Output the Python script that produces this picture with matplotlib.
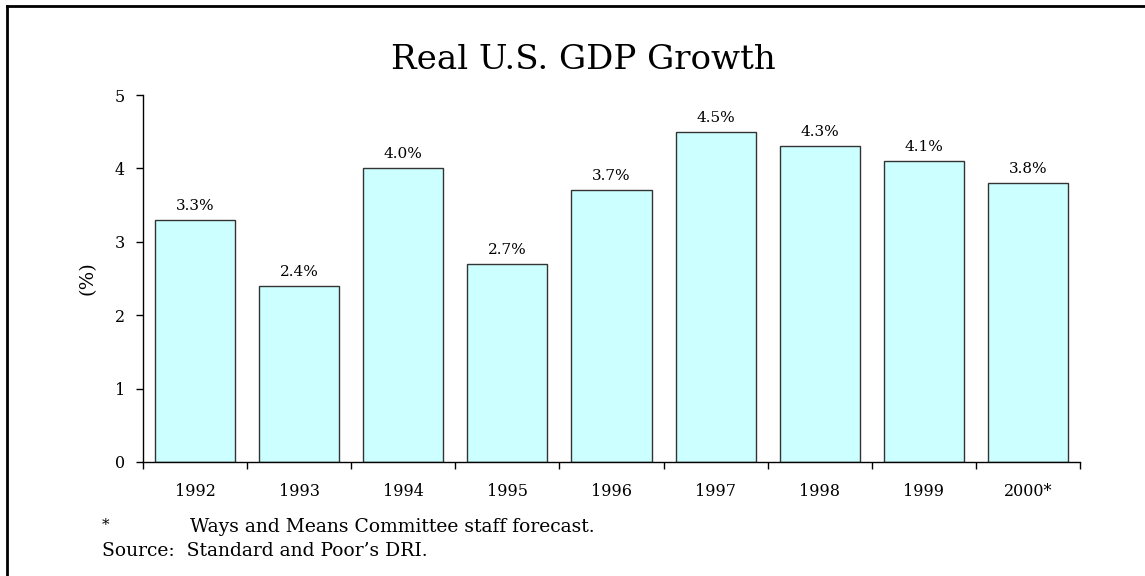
import matplotlib.pyplot as plt
from matplotlib.lines import Line2D
import numpy as np

years = ['1992', '1993', '1994', '1995', '1996', '1997', '1998', '1999', '2000*']
growth = [3.3, 2.4, 4.0, 2.7, 3.7, 4.5, 4.3, 4.1, 3.8]

plt.rcParams['font.family'] = ['DejaVu Serif']

W, H = 1145, 576
fig = plt.figure(figsize=(W / 100, H / 100), dpi=100)
ax = fig.add_axes([143 / W, 1 - 462 / H, (1080 - 143) / W, (462 - 95) / H])

x = np.arange(len(years))
bars = ax.bar(x, growth, width=0.77, color='#ccffff', edgecolor='#333333', linewidth=1.0)

for xi, v in zip(x, growth):
    ax.annotate(f'{v:.1f}%', (xi, v), xytext=(0, 5), textcoords='offset points',
                ha='center', va='bottom', fontsize=11)

ax.set_xlim(-0.5, len(years) - 0.5)
ax.set_ylim(0, 5)
ax.set_yticks(range(6))
ax.set_xticks(np.arange(-0.5, len(years), 1.0))
ax.set_xticklabels([])
ax.set_xticks(x, minor=True)
ax.set_xticklabels(years, minor=True)
ax.tick_params(axis='x', which='major', length=5, width=1, direction='out')
ax.tick_params(axis='x', which='minor', length=0, pad=15, labelsize=11.5)
ax.tick_params(axis='y', length=5, width=1, direction='out', labelsize=11.5, pad=8)
for side in ['top', 'right']:
    ax.spines[side].set_visible(False)
ax.spines['left'].set_linewidth(1)
ax.spines['bottom'].set_linewidth(1)

ax.set_ylabel('(%)', fontsize=14, labelpad=13)

fig.text(583 / W, 1 - 60 / H, 'Real U.S. GDP Growth', ha='center', va='center', fontsize=24.5)

fig.text(102 / W, 1 - 525 / H, '*', ha='left', va='center', fontsize=11)
fig.text(190 / W, 1 - 527 / H, 'Ways and Means Committee staff forecast.', ha='left', va='center', fontsize=13.5)
fig.text(102 / W, 1 - 551 / H, 'Source:  Standard and Poor\u2019s DRI.', ha='left', va='center', fontsize=13.5)

# frame lines along the top and left edge of the page
fig.add_artist(Line2D([7 / W, 1.0], [1 - 6 / H, 1 - 6 / H], transform=fig.transFigure, color='black', lw=2))
fig.add_artist(Line2D([7 / W, 7 / W], [0.0, 1 - 6 / H], transform=fig.transFigure, color='black', lw=2))

fig.savefig('out.png', dpi=100)
